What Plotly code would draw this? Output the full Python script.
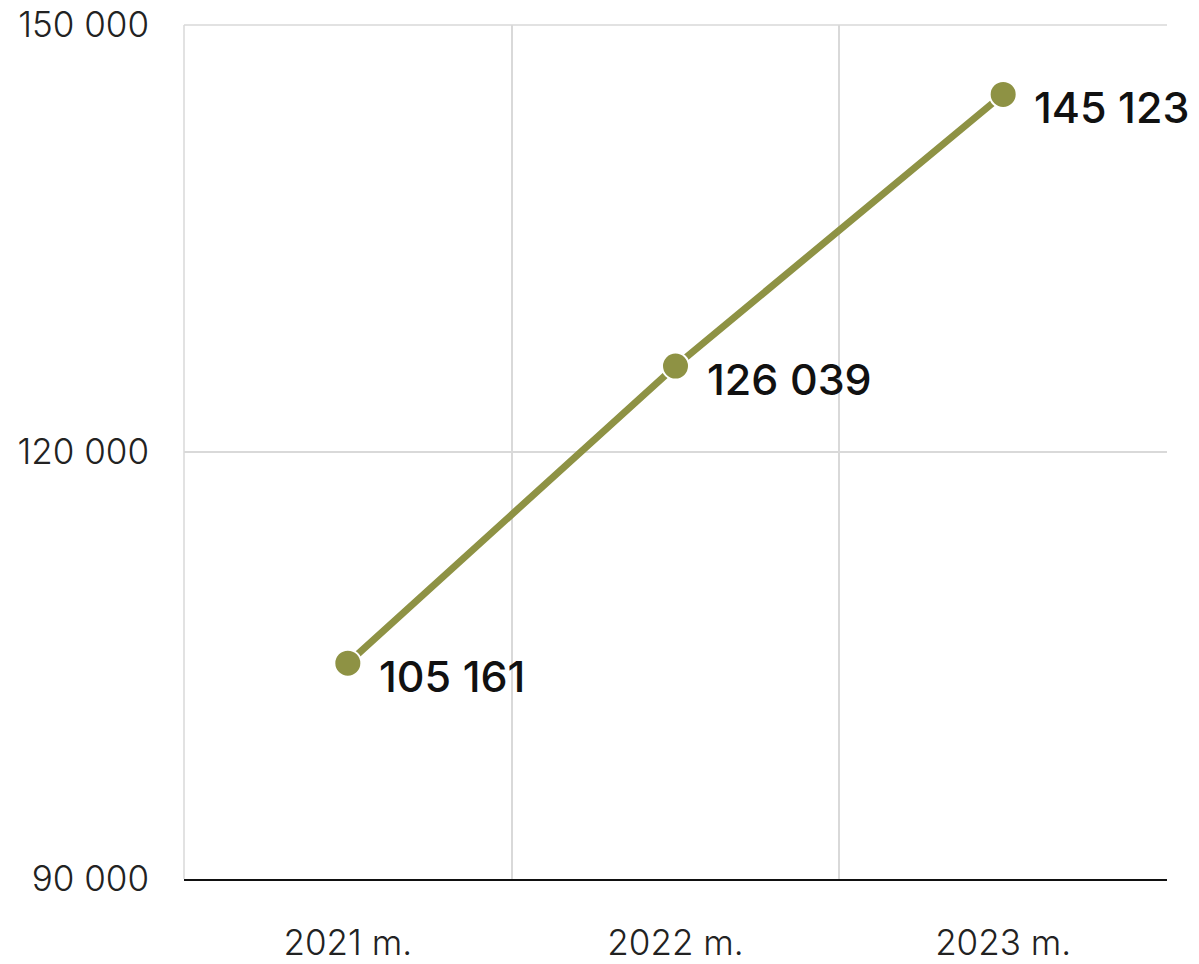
import plotly.graph_objects as go

categories = ["2021 m.", "2022 m.", "2023 m."]
values = [105161, 126039, 145123]
value_labels = ["105 161", "126 039", "145 123"]
y_ticks = [90000, 120000, 150000]

color = "#8E9244"

fig = go.Figure()
fig.add_trace(go.Scatter(
    x=categories, y=values,
    mode="lines+markers",
    line=dict(color=color, width=7),
    marker=dict(size=27, color=color, line=dict(color="white", width=2)),
    cliponaxis=False,
    hoverinfo="skip",
))

for c, v, t in zip(categories, values, value_labels):
    fig.add_annotation(
        x=c, y=v, text=t, showarrow=False,
        xanchor="left", yanchor="middle", xshift=29, yshift=-13,
        font=dict(family="Inter", size=43, color="#111111", weight=500),
    )

fig.update_layout(
    width=1199, height=964,
    margin=dict(l=184, r=32, t=25, b=85),
    paper_bgcolor="white", plot_bgcolor="white",
    separators=", ",
    showlegend=False,
    font=dict(family="Inter", color="#222222"),
)
fig.update_xaxes(
    type="category",
    tickson="boundaries",
    automargin=False,
    showgrid=True, gridcolor="#d9d9d9", gridwidth=1.5,
    showline=True, linecolor="#111111", linewidth=2,
    ticks="", ticklabelstandoff=32,
    tickfont=dict(family="Inter", size=35, color="#222222", weight=300),
    range=[-0.5, 2.5],
    zeroline=False,
)
fig.update_yaxes(
    range=[90000, 150000],
    tickvals=y_ticks,
    tickformat=",d",
    automargin=False,
    ticklabeloverflow="allow",
    showgrid=True, gridcolor="#d9d9d9", gridwidth=1.5,
    showline=False, zeroline=False,
    ticks="", ticklabelstandoff=34,
    tickfont=dict(family="Inter", size=35, color="#222222", weight=300),
)
fig.add_shape(type="line", xref="paper", yref="paper", x0=0, x1=0, y0=0, y1=1,
              line=dict(color="#d9d9d9", width=1.5), layer="below")
fig.add_shape(type="line", xref="paper", yref="paper", x0=0, x1=1, y0=1, y1=1,
              line=dict(color="#d9d9d9", width=1.5), layer="below")

fig.write_html("out.html", config={"displayModeBar": False},
               post_script="document.body.style.margin='0';")
